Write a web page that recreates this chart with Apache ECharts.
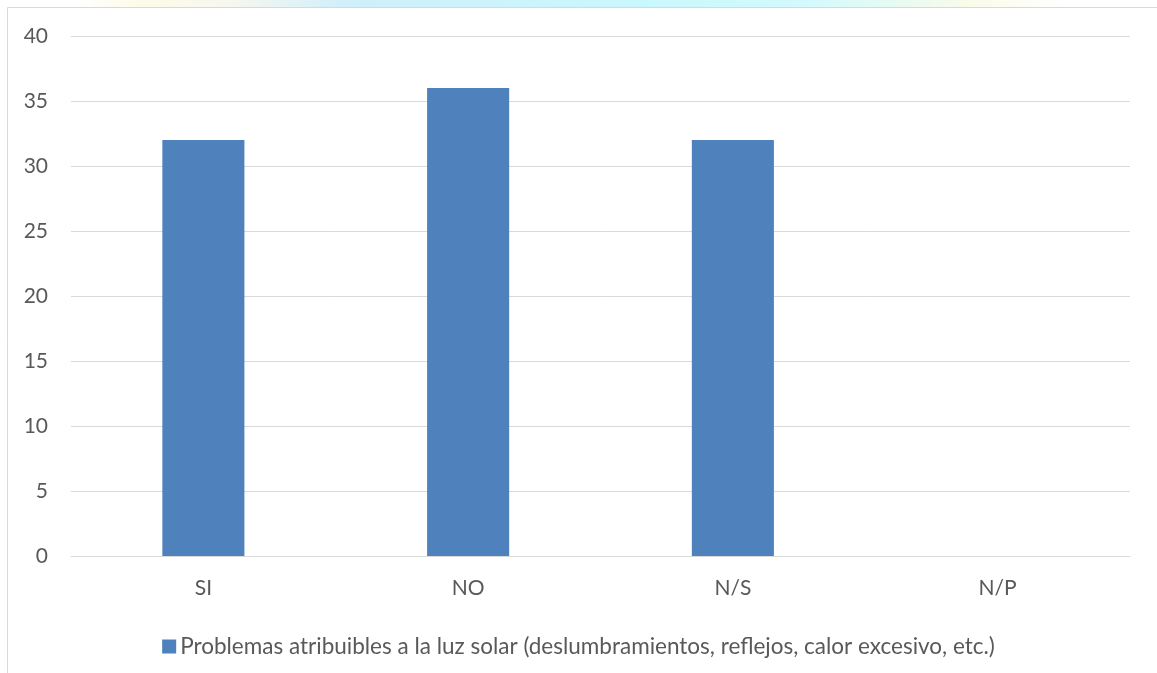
<!DOCTYPE html>
<html>
<head>
<meta charset="utf-8">
<script src="https://cdn.jsdelivr.net/npm/echarts@6/dist/echarts.min.js"></script>
<style>
  html, body { margin: 0; padding: 0; background: #ffffff; }
  #chart { width: 1157px; height: 673px; }
</style>
</head>
<body>
<div id="chart"></div>
<script>
// Survey answers on sunlight-related problems
const categories = ['SI', 'NO', 'N/S', 'N/P'];
const values = [32, 36, 32, 0];
const seriesName = 'Problemas atribuibles a la luz solar (deslumbramientos, reflejos, calor excesivo, etc.)';
const yTicks = { min: 0, max: 40, step: 5 };

const FONT = 'Lato';
const TEXT = '#595959';
const GRID_LINE = '#d9d9d9';
const BAR = '#4f81bd';

const chart = echarts.init(document.getElementById('chart'), null, { renderer: 'canvas' });

chart.setOption({
  backgroundColor: '#ffffff',
  animation: false,
  textStyle: { fontFamily: FONT },
  graphic: [
    {
      // soft coloured strip of the page behind the chart frame
      type: 'rect',
      z: -10,
      shape: { x: 0, y: 0, width: 1157, height: 7 },
      style: {
        fill: new echarts.graphic.LinearGradient(0, 0, 1, 0, [
          { offset: 0.00, color: '#ffffff' },
          { offset: 0.07, color: '#ffffff' },
          { offset: 0.12, color: '#fdfbe8' },
          { offset: 0.20, color: '#f7f7f0' },
          { offset: 0.30, color: '#cfeffa' },
          { offset: 0.55, color: '#c9f8fc' },
          { offset: 0.70, color: '#d3fafd' },
          { offset: 0.77, color: '#e6faf3' },
          { offset: 0.84, color: '#fbfbea' },
          { offset: 0.92, color: '#ffffff' },
          { offset: 1.00, color: '#ffffff' }
        ])
      }
    },
    {
      // chart frame
      type: 'rect',
      z: -5,
      shape: { x: 7.5, y: 7.5, width: 1170, height: 700 },
      style: { fill: '#ffffff', stroke: GRID_LINE, lineWidth: 1 }
    }
  ],
  grid: { left: 71, right: 27, top: 36, bottom: 117, containLabel: false },
  legend: {
    show: true,
    top: 630,
    left: 'center',
    itemWidth: 14,
    itemHeight: 14,
    itemGap: 10,
    icon: 'rect',
    textStyle: { color: TEXT, fontSize: 22.5, fontFamily: FONT, padding: [0, 0, 0, -1] },
    data: [seriesName]
  },
  xAxis: {
    type: 'category',
    data: categories,
    axisLine: { show: true, lineStyle: { color: GRID_LINE, width: 1 } },
    axisTick: { show: false },
    axisLabel: { color: TEXT, fontSize: 21, margin: 22, fontFamily: FONT },
    splitLine: { show: false }
  },
  yAxis: {
    type: 'value',
    min: yTicks.min,
    max: yTicks.max,
    interval: yTicks.step,
    axisLine: { show: false },
    axisTick: { show: false },
    axisLabel: { color: TEXT, fontSize: 21, margin: 23, fontFamily: FONT },
    splitLine: { show: true, lineStyle: { color: GRID_LINE, width: 1 } }
  },
  series: [
    {
      name: seriesName,
      type: 'bar',
      data: values,
      barWidth: '31%',
      itemStyle: { color: BAR }
    }
  ]
});
</script>
</body>
</html>
